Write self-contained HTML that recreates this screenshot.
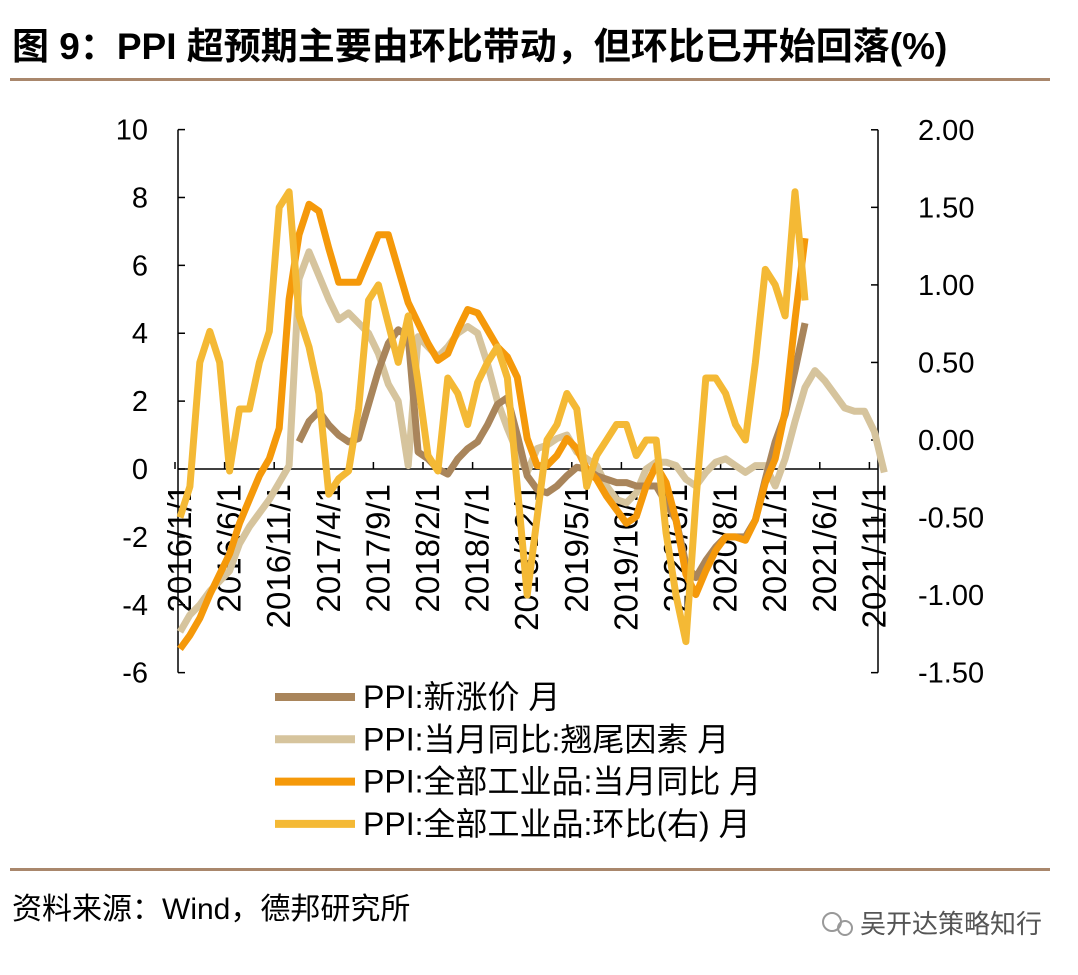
<!DOCTYPE html>
<html><head><meta charset="utf-8">
<style>
body{margin:0;background:#fff;width:1078px;height:970px;overflow:hidden;font-family:"Liberation Sans","Noto Sans CJK SC",sans-serif;}
svg text{font-family:"Liberation Sans","Noto Sans CJK SC",sans-serif;}
</style></head>
<body>
<svg id="chart" width="1078" height="970">
<text x="12" y="59" font-size="37" font-weight="bold" fill="#000">图 9：PPI 超预期主要由环比带动，但环比已开始回落(%)</text>
<rect x="10" y="78" width="1040" height="3" fill="#a9876c"/>
<rect x="10" y="868" width="1040" height="3" fill="#a9876c"/>
<text x="12" y="919" font-size="30" fill="#000">资料来源：Wind，德邦研究所</text>
<g>
<circle cx="832" cy="922" r="9" fill="none" stroke="#999" stroke-width="2"/>
<circle cx="845" cy="928" r="7" fill="none" stroke="#999" stroke-width="2"/>
<text x="860" y="933" font-size="26" fill="#555">吴开达策略知行</text>
</g>
<g id="axes"></g>
<g id="series"></g>
<g id="legend"></g>
</svg>
<script>
const months = ["2016/1/1","2016/6/1","2016/11/1","2017/4/1","2017/9/1","2018/2/1","2018/7/1","2018/12/1","2019/5/1","2019/10/1","2020/3/1","2020/8/1","2021/1/1","2021/6/1","2021/11/1"];
const leftTicks = [10,8,6,4,2,0,-2,-4,-6];
const rightTicks = ["2.00","1.50","1.00","0.50","0.00","-0.50","-1.00","-1.50"];
// index 0 = 2016/1, monthly
const tailFactor = [-4.8,-4.3,-4.0,-3.6,-3.3,-3.0,-2.2,-1.7,-1.3,-0.9,-0.4,0.1,5.6,6.4,5.7,5.0,4.4,4.6,4.3,4.0,3.4,2.5,2.0,0.1,3.9,3.6,3.3,3.6,4.0,4.2,4.0,3.1,2.0,1.2,0.5,-0.1,0.6,0.7,0.9,1.0,0.5,0.3,0.1,-0.5,-0.9,-1.0,-0.7,0.0,0.2,0.2,0.1,-0.3,-0.5,-0.1,0.2,0.3,0.1,-0.1,0.1,0.1,-0.5,0.3,1.4,2.4,2.9,2.6,2.2,1.8,1.7,1.7,1.1,-0.1];
const newFactorStart = 12;
const newFactor = [0.8,1.4,1.7,1.3,1.0,0.8,0.9,1.9,2.9,3.7,4.1,3.9,0.5,0.3,0.0,-0.15,0.3,0.6,0.8,1.3,1.9,2.1,1.0,-0.2,-0.6,-0.7,-0.5,-0.2,0.05,0.0,-0.2,-0.3,-0.4,-0.4,-0.5,-0.5,-0.5,-1.0,-1.5,-2.8,-3.2,-2.7,-2.3,-2.0,-2.0,-2.0,-1.5,-0.3,0.8,1.6,2.9,4.3];
const yoy = [-5.3,-4.9,-4.4,-3.7,-3.1,-2.5,-1.6,-0.9,-0.2,0.3,1.2,5.0,6.9,7.8,7.6,6.5,5.5,5.5,5.5,6.2,6.9,6.9,5.9,4.9,4.3,3.7,3.2,3.4,4.1,4.7,4.6,4.1,3.6,3.3,2.7,0.9,0.1,0.1,0.4,0.9,0.6,0.0,-0.3,-0.8,-1.2,-1.6,-1.4,-0.5,0.1,-0.4,-1.5,-3.1,-3.7,-3.0,-2.4,-2.0,-2.0,-2.1,-1.5,-0.4,0.3,1.7,4.4,6.8];
const mom = [-0.5,-0.3,0.5,0.7,0.5,-0.2,0.2,0.2,0.5,0.7,1.5,1.6,0.8,0.6,0.3,-0.35,-0.25,-0.2,0.2,0.9,1.0,0.75,0.5,0.8,0.37,-0.1,-0.2,0.4,0.3,0.1,0.37,0.5,0.6,0.4,-0.3,-1.0,-0.5,0.0,0.1,0.3,0.2,-0.3,-0.1,0.0,0.1,0.1,-0.1,0.0,0.0,-0.6,-1.0,-1.3,-0.4,0.4,0.4,0.3,0.1,0.0,0.5,1.1,1.0,0.8,1.6,0.9];
const legendLabels = ["PPI:新涨价 月","PPI:当月同比:翘尾因素 月","PPI:全部工业品:当月同比 月","PPI:全部工业品:环比(右) 月"];
const colors = ["#a9855b","#d6c49d","#f5990a","#f4b935"];

const NS="http://www.w3.org/2000/svg";
const X0=180, DX=9.92, AL=178, AR=878;
const x = i => X0 + i*DX;
const yL = v => 469 - v*33.94;
const yR = v => 440 - v*155.1;
function mk(tag, attrs, parent){const e=document.createElementNS(NS,tag);for(const k in attrs)e.setAttribute(k,attrs[k]);parent.appendChild(e);return e;}
const axes=document.getElementById('axes'), series=document.getElementById('series'), legend=document.getElementById('legend');

let e;
e=mk('line',{x1:AL,y1:yL(10),x2:AL,y2:yL(-6),stroke:'#000','stroke-width':1.5},axes);


e=mk('line',{x1:AR,y1:yR(2),x2:AR,y2:yR(-1.5),stroke:'#000','stroke-width':1.5},axes);


e=mk('line',{x1:AL,y1:yL(0),x2:AR,y2:yL(0),stroke:'#000','stroke-width':1.5},axes);


leftTicks.forEach(v=>{
  mk('line',{x1:AL,y1:yL(v),x2:AL+7,y2:yL(v),stroke:'#000','stroke-width':1.5},axes);
  e=mk('text',{x:148,y:yL(v)+10,'font-size':29,'text-anchor':'end'},axes);
  e.textContent=v;
  
  
});
rightTicks.forEach(t=>{
  const v=parseFloat(t);
  mk('line',{x1:AR-7,y1:yR(v),x2:AR,y2:yR(v),stroke:'#000','stroke-width':1.5},axes);
  e=mk('text',{x:918,y:yR(v)+10,'font-size':29},axes);
  e.textContent=t;
  
  
});
months.forEach((m,k)=>{
  const tx=175+k*49.6;
  mk('line',{x1:tx,y1:yL(0),x2:tx,y2:yL(0)-7,stroke:'#000','stroke-width':1.5},axes);
  e=mk('text',{x:0,y:0,'font-size':33,'text-anchor':'end',transform:`translate(${tx+16},484) rotate(-90)`},axes);
  e.textContent=m;
  
  
});
function line(vals,start,fy,color,name){
  const pts=vals.map((v,i)=>x(i+start).toFixed(1)+','+fy(v).toFixed(1)).join(' ');
  const p=mk('polyline',{points:pts,fill:'none',stroke:color,'stroke-width':7,'stroke-linejoin':'round'},series);
  
  
}
line(tailFactor,0,yL,colors[1],'series-tail-factor');
line(newFactor,newFactorStart,yL,colors[0],'series-new-price-factor');
line(yoy,0,yL,colors[2],'series-ppi-yoy');
line(mom,0,yR,colors[3],'series-ppi-mom');
legendLabels.forEach((t,k)=>{
  const y=697+k*42.3;
  const g=mk('g',{},legend);
  
  
  mk('line',{x1:275,y1:y,x2:355,y2:y,stroke:colors[k],'stroke-width':8},g);
  const tx=mk('text',{x:363,y:y+11,'font-size':32},g);
  tx.textContent=t;
});
</script>
</body></html>
